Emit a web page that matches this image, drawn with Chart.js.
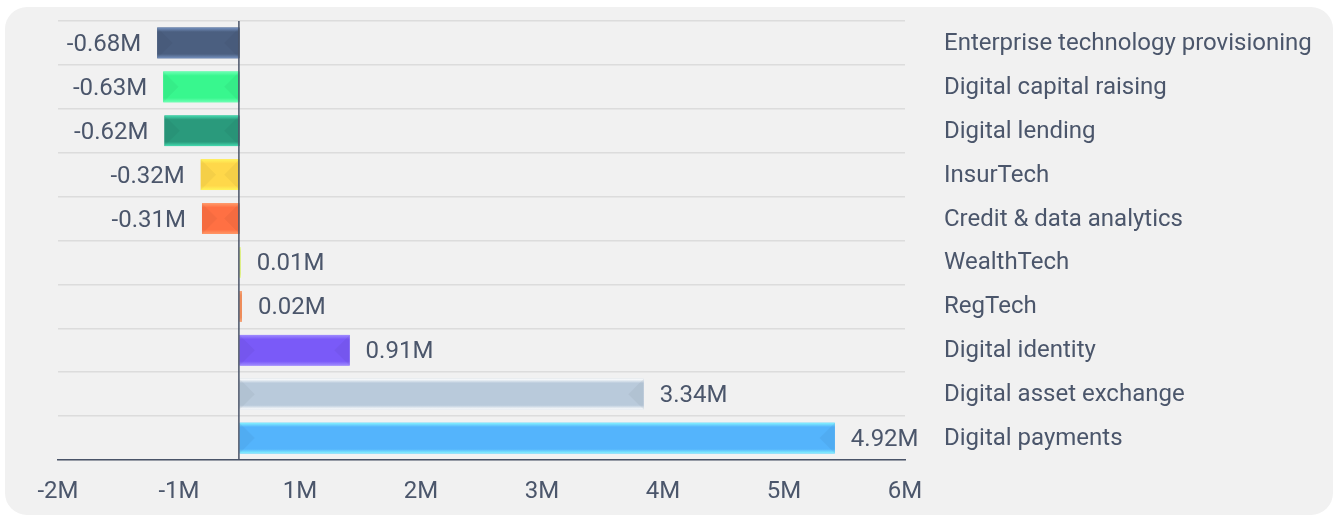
<!DOCTYPE html>
<html>
<head>
<meta charset="utf-8">
<script src="https://cdn.jsdelivr.net/npm/chart.js@4.4.1/dist/chart.umd.min.js"></script>
<style>
    html, body { margin: 0; padding: 0; background: #ffffff; }
    #card {
        position: absolute; left: 5px; top: 7px;
        width: 1328px; height: 508px;
        background: #f1f1f1; border-radius: 22px;
        overflow: hidden;
    }
</style>
</head>
<body>
<div id="card"><canvas id="chart" width="1328" height="508"></canvas></div>
<script>
    // Daten (Werte in Mio.)
    const categories = [
        'Enterprise technology provisioning',
        'Digital capital raising',
        'Digital lending',
        'InsurTech',
        'Credit & data analytics',
        'WealthTech',
        'RegTech',
        'Digital identity',
        'Digital asset exchange',
        'Digital payments'
    ];
    const values = [-0.68, -0.63, -0.62, -0.32, -0.31, 0.01, 0.02, 0.91, 3.34, 4.92];
    const xMin = -1.5;
    const xMax = 5.5;

    // Farben: Grundfarbe und helle Kante
    const baseColors = ['#4b5f80', '#38f78e', '#2a9a7c', '#ffd84a', '#ff7043', '#dcef7c', '#ee8c5a', '#7a5af8', '#b9cadb', '#54b4fc'];
    const edgeColors = ['#7591bf', '#6dffb4', '#45dcb0', '#fff45c', '#ff9a6a', '#eefaa8', '#f6a67a', '#a08cff', '#ffffff', '#86f4ff'];

    const textColor = '#4b566b';
    const axisColor = '#4a5468';
    const fontSize = 24;

    // Balken mit Relief-Effekt nachzeichnen
    const bevelPlugin = {
        id: 'bevel',
        afterDatasetsDraw(chart) {
            const ctx = chart.ctx;
            const meta = chart.getDatasetMeta(0);
            meta.data.forEach((bar, i) => {
                const x0 = Math.min(bar.x, bar.base);
                const x1 = Math.max(bar.x, bar.base);
                const y0 = bar.y - bar.height / 2;
                const y1 = bar.y + bar.height / 2;
                const h = y1 - y0;
                const w = x1 - x0;
                ctx.save();
                const g = ctx.createLinearGradient(0, y0, 0, y1);
                g.addColorStop(0, edgeColors[i]);
                g.addColorStop(0.14, baseColors[i]);
                g.addColorStop(0.86, baseColors[i]);
                g.addColorStop(1, edgeColors[i]);
                ctx.fillStyle = g;
                ctx.fillRect(x0, y0, w, h);
                if (w > h) {
                    const d = h / 2;
                    ctx.fillStyle = 'rgba(0,0,0,0.04)';
                    ctx.beginPath();
                    ctx.moveTo(x0, y0); ctx.lineTo(x0 + d, bar.y); ctx.lineTo(x0, y1);
                    ctx.closePath(); ctx.fill();
                    ctx.beginPath();
                    ctx.moveTo(x1, y0); ctx.lineTo(x1 - d, bar.y); ctx.lineTo(x1, y1);
                    ctx.closePath(); ctx.fill();
                }
                ctx.restore();
            });
        }
    };

    // Nulllinie und Wertebeschriftung
    const labelPlugin = {
        id: 'valueLabels',
        afterDraw(chart) {
            const ctx = chart.ctx;
            const area = chart.chartArea;
            const xs = chart.scales.x;
            const zx = xs.getPixelForValue(0) - 0.6;
            ctx.save();
            ctx.strokeStyle = axisColor;
            ctx.lineWidth = 1.5;
            ctx.beginPath();
            ctx.moveTo(zx, area.top);
            ctx.lineTo(zx, area.bottom);
            ctx.stroke();

            ctx.font = fontSize + 'px Roboto';
            ctx.fillStyle = textColor;
            ctx.textBaseline = 'middle';
            chart.getDatasetMeta(0).data.forEach((bar, i) => {
                const v = values[i];
                const txt = v.toFixed(2) + 'M';
                if (v < 0) {
                    ctx.textAlign = 'right';
                    ctx.fillText(txt, bar.x - 16, bar.y + 2);
                } else {
                    ctx.textAlign = 'left';
                    ctx.fillText(txt, bar.x + 16, bar.y + 2);
                }
            });
            ctx.restore();
        }
    };

    new Chart(document.getElementById('chart'), {
        type: 'bar',
        data: {
            labels: categories,
            datasets: [{
                data: values,
                backgroundColor: baseColors,
                borderWidth: 0,
                barPercentage: 0.7,
                categoryPercentage: 1
            }]
        },
        options: {
            indexAxis: 'y',
            responsive: false,
            animation: false,
            layout: { padding: { left: 53, right: 0, top: 14, bottom: 0 } },
            plugins: {
                legend: { display: false },
                tooltip: { enabled: false }
            },
            scales: {
                x: {
                    min: xMin,
                    max: xMax,
                    afterFit: s => { s.height = 55; },
                    ticks: {
                        stepSize: 1,
                        padding: 18,
                        color: textColor,
                        font: { family: 'Roboto', size: fontSize },
                        maxRotation: 0,
                        callback: v => Number(v).toFixed(0) + 'M'
                    },
                    grid: { color: 'rgba(0,0,0,0)', drawTicks: false },
                    border: { color: axisColor, width: 1.5 }
                },
                y: {
                    position: 'right',
                    afterFit: s => {
                        s.width = 428;
                        s.paddingTop = 0;
                        s.paddingBottom = 0;
                    },
                    ticks: {
                        padding: 39,
                        labelOffset: 1,
                        color: textColor,
                        font: { family: 'Roboto', size: fontSize }
                    },
                    grid: { color: '#dcdcdc', lineWidth: 1.5, drawTicks: false },
                    border: { display: false }
                }
            }
        },
        plugins: [bevelPlugin, labelPlugin]
    });
</script>
</body>
</html>
